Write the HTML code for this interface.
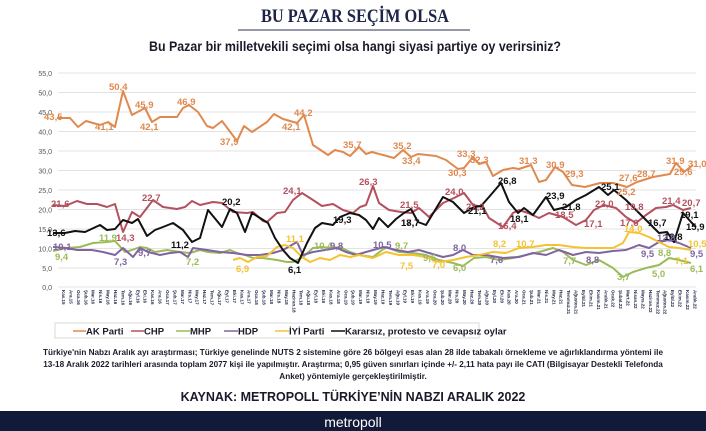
<!DOCTYPE html>
<html><head><meta charset="utf-8"><style>
html,body{margin:0;padding:0;background:#fff;width:706px;height:431px;overflow:hidden}
svg{display:block}
</style></head><body>
<svg width="706" height="431" xmlns="http://www.w3.org/2000/svg" font-family="Liberation Sans, sans-serif">
<rect width="706" height="431" fill="#fff"/>
<text x="355" y="22" text-anchor="middle" font-family="Liberation Serif, serif" font-size="19" font-weight="bold" fill="#1c2447" transform="translate(355 0) scale(0.86 1) translate(-355 0)">BU PAZAR SEÇİM OLSA</text>
<line x1="238" y1="30" x2="470" y2="30" stroke="#2a3050" stroke-width="1"/>
<text x="355" y="51" text-anchor="middle" font-size="13.5" font-weight="bold" fill="#1a1a2a" transform="translate(355 0) scale(0.92 1) translate(-355 0)">Bu Pazar bir milletvekili seçimi olsa hangi siyasi partiye oy verirsiniz?</text>
<g stroke="#e3e3e3" stroke-width="1">
<line x1="58" y1="73" x2="696" y2="73"/><line x1="58" y1="92.5" x2="696" y2="92.5"/><line x1="58" y1="112" x2="696" y2="112"/><line x1="58" y1="131.5" x2="696" y2="131.5"/><line x1="58" y1="151" x2="696" y2="151"/><line x1="58" y1="170.5" x2="696" y2="170.5"/><line x1="58" y1="190" x2="696" y2="190"/><line x1="58" y1="209.5" x2="696" y2="209.5"/><line x1="58" y1="229" x2="696" y2="229"/><line x1="58" y1="248.5" x2="696" y2="248.5"/><line x1="58" y1="268" x2="696" y2="268"/><line x1="58" y1="287" x2="696" y2="287"/>
</g>
<g font-size="7" fill="#555" text-anchor="end">
<text x="52" y="76">55,0</text><text x="52" y="95.5">50,0</text><text x="52" y="115">45,0</text><text x="52" y="134.5">40,0</text><text x="52" y="154">35,0</text><text x="52" y="173.5">30,0</text><text x="52" y="193">25,0</text><text x="52" y="212.5">20,0</text><text x="52" y="232">15,0</text><text x="52" y="251.5">10,0</text><text x="52" y="271">5,0</text><text x="52" y="290">0,0</text>
</g>
<g fill="none" stroke-width="2" stroke-linejoin="round">
<polyline stroke="#e0894f" points="57,118 70,118 78,127 86,121 100,125 108,122 115,127 123,91 132,115 145,108 152,122 160,117 168,117 177,117 183,108 189,105 198,112 207,126 213,128 222,121 237,141 244,126 252,132 267,122 274,114 283,119 297,123 304,115 313,145 328,155 335,150 343,152 350,156 359,147 366,154 372,152 394,158 403,150 411,157 418,154 436,156 446,160 458,169 464,168 473,157 479,164 486,162 493,176 503,170 513,168 519,169 531,165 539,182 546,180 555,167 563,172 572,185 585,187 600,183 613,183 627,187 637,182 653,177 670,174 676,163 684,172 693,165"/>
<polyline stroke="#b5505e" points="53,205 65,206 77,201 87,204 97,204 107,207 115,204 123,232 132,212 140,217 153,200 163,207 177,209 185,207 192,201 200,205 213,202 222,203 233,212 247,213 253,212 263,221 267,222 277,213 285,212 293,200 302,193 313,200 322,206 333,204 343,210 353,213 360,207 366,205 373,186 379,203 389,210 401,212 411,213 419,208 429,217 443,203 454,198 464,193 473,205 483,207 489,218 503,227 513,213 519,210 528,213 539,218 549,213 563,217 576,225 586,220 594,210 604,205 616,208 626,217 636,223 646,215 656,208 666,207 673,205 683,210 691,208"/>
<polyline stroke="#9bbb59" points="53,251 67,248 80,247 93,243 107,242 115,241 125,252 132,250 140,247 147,248 155,252 167,250 180,252 190,253 200,250 208,252 220,253 230,250 237,253 245,255 253,258 263,258 277,260 287,262 293,262 303,257 313,248 322,247 330,248 340,247 350,252 359,255 373,257 386,247 399,252 413,253 426,255 439,260 453,263 463,266 474,258 486,257 499,260 513,258 526,255 539,252 553,248 563,252 573,260 586,265 599,260 613,268 623,277 633,272 646,268 659,265 669,258 679,260 691,263"/>
<polyline stroke="#8064a2" points="53,247 67,248 77,250 92,250 103,252 115,255 123,248 133,257 140,248 148,252 160,255 170,253 180,252 188,257 193,248 207,250 220,252 233,253 247,255 260,255 273,253 283,250 297,242 303,255 313,252 325,250 337,248 346,252 356,255 366,252 384,247 396,250 408,252 419,250 429,253 443,257 453,255 463,250 473,255 486,255 503,258 519,257 533,253 546,255 559,250 573,255 586,252 599,253 613,251 626,250 639,245 649,248 659,242 669,240 679,243 691,248"/>
<polyline stroke="#f5c232" points="233,260 240,258 248,262 257,257 267,256 277,247 285,245 293,248 302,257 310,262 320,258 330,260 340,255 350,257 359,255 373,258 386,252 399,255 413,255 426,257 439,262 453,260 466,257 479,255 493,252 506,253 519,248 533,247 546,245 559,245 573,247 586,248 599,248 613,248 623,243 629,232 639,233 649,237 659,242 669,247 679,248 691,250"/>
<polyline stroke="#111" points="53,233 65,233 75,231 85,232 100,225 107,230 115,229 123,220 132,223 138,219 147,236 155,230 163,227 173,223 183,230 192,242 200,238 208,210 222,227 230,209 237,213 245,232 252,213 260,218 268,223 275,238 283,250 290,258 298,263 307,243 315,228 322,223 333,225 340,217 350,213 359,215 366,220 373,229 379,218 388,227 396,219 404,213 411,209 418,222 426,225 443,197 453,202 464,213 474,207 481,206 489,197 501,183 509,202 518,213 524,208 533,215 546,197 554,210 566,207 576,200 586,195 599,187 608,195 614,190 626,200 636,210 646,220 659,233 667,232 674,242 683,213 691,222 696,227"/>
</g>
<g font-size="9.5" font-weight="bold">
<g fill="#e0894f">
<text x="44" y="120">43,5</text><text x="95" y="130">41,1</text><text x="109" y="90">50,4</text><text x="135" y="108">45,9</text><text x="140" y="130">42,1</text><text x="177" y="105">46,9</text><text x="220" y="145">37,9</text><text x="282" y="130">42,1</text><text x="294" y="116">44,2</text><text x="343" y="148">35,7</text><text x="393" y="149">35,2</text><text x="402" y="164">33,4</text><text x="448" y="176">30,3</text><text x="457" y="157">33,3</text><text x="470" y="163">32,3</text><text x="519" y="164">31,3</text><text x="546" y="168">30,9</text><text x="565" y="177">29,3</text><text x="619" y="181">27,6</text><text x="637" y="177">28,7</text><text x="666" y="164">31,9</text><text x="674" y="175">29,6</text><text x="688" y="167">31,0</text><text x="617" y="195">25,2</text>
</g>
<g fill="#b5505e">
<text x="51" y="207">21,6</text><text x="116" y="241">14,3</text><text x="142" y="201">22,7</text><text x="283" y="194">24,1</text><text x="359" y="185">26,3</text><text x="400" y="208">21,5</text><text x="401" y="226">17,7</text><text x="445" y="195">24,0</text><text x="466" y="210">21,2</text><text x="498" y="229">16,4</text><text x="555" y="218">18,5</text><text x="584" y="227">17,1</text><text x="595" y="207">22,0</text><text x="625" y="210">19,8</text><text x="620" y="226">17,6</text><text x="662" y="204">21,4</text><text x="682" y="206">20,7</text>
</g>
<g fill="#111">
<text x="47" y="236">13,6</text><text x="171" y="248">11,2</text><text x="222" y="205">20,2</text><text x="288" y="273">6,1</text><text x="333" y="223">19,3</text><text x="401" y="226">18,7</text><text x="468" y="214">21,1</text><text x="498" y="184">26,8</text><text x="510" y="222">18,1</text><text x="546" y="199">23,9</text><text x="562" y="210">21,8</text><text x="601" y="190">25,1</text><text x="648" y="226">16,7</text><text x="664" y="240">13,8</text><text x="680" y="218">19,1</text><text x="686" y="230">15,9</text>
</g>
<g fill="#9bbb59">
<text x="55" y="260">9,4</text><text x="99" y="241">11,9</text><text x="186" y="265">7,2</text><text x="314" y="249">10,4</text><text x="395" y="249">9,7</text><text x="423" y="261">9,5</text><text x="453" y="271">6,0</text><text x="563" y="264">7,7</text><text x="617" y="280">3,7</text><text x="652" y="277">5,0</text><text x="658" y="256">8,8</text><text x="690" y="272">6,1</text>
</g>
<g fill="#8064a2">
<text x="53" y="250">10,1</text><text x="114" y="265">7,3</text><text x="138" y="256">9,7</text><text x="330" y="249">9,8</text><text x="373" y="248">10,5</text><text x="453" y="251">8,0</text><text x="490" y="263">7,6</text><text x="586" y="263">8,8</text><text x="641" y="257">9,5</text><text x="657" y="241">12,8</text><text x="690" y="257">9,5</text>
</g>
<g fill="#f5c232">
<text x="236" y="272">6,9</text><text x="286" y="242">11,1</text><text x="400" y="269">7,5</text><text x="432" y="268">7,0</text><text x="493" y="247">8,2</text><text x="516" y="247">10,7</text><text x="624" y="232">14,0</text><text x="675" y="264">7,1</text><text x="688" y="247">10,5</text>
</g>
</g>
<g font-size="4.5" font-weight="bold" fill="#1c2447">
<text transform="translate(62,290) rotate(90)">Kas.15</text><text transform="translate(69.4,290) rotate(90)">Ara.15</text><text transform="translate(76.9,290) rotate(90)">Oca.16</text><text transform="translate(84.3,290) rotate(90)">Şub.16</text><text transform="translate(91.7,290) rotate(90)">Mar.16</text><text transform="translate(99.1,290) rotate(90)">Nis.16</text><text transform="translate(106.6,290) rotate(90)">May.16</text><text transform="translate(114,290) rotate(90)">Haz.16</text><text transform="translate(121.4,290) rotate(90)">Tem.16</text><text transform="translate(128.9,290) rotate(90)">Ağu.16</text><text transform="translate(136.3,290) rotate(90)">Eyl.16</text><text transform="translate(143.7,290) rotate(90)">Eki.16</text><text transform="translate(151.1,290) rotate(90)">Kas.16</text><text transform="translate(158.6,290) rotate(90)">Ara.16</text><text transform="translate(166,290) rotate(90)">Oca.17</text><text transform="translate(173.4,290) rotate(90)">Şub.17</text><text transform="translate(180.9,290) rotate(90)">Mar.17</text><text transform="translate(188.3,290) rotate(90)">Nis.17</text><text transform="translate(195.7,290) rotate(90)">May.17</text><text transform="translate(203.1,290) rotate(90)">Haz.17</text><text transform="translate(210.6,290) rotate(90)">Tem.17</text><text transform="translate(218,290) rotate(90)">Ağu.17</text><text transform="translate(225.4,290) rotate(90)">Eyl.17</text><text transform="translate(232.9,290) rotate(90)">Eki.17</text><text transform="translate(240.3,290) rotate(90)">Kas.17</text><text transform="translate(247.7,290) rotate(90)">Ara.17</text><text transform="translate(255.1,290) rotate(90)">Oca.18</text><text transform="translate(262.6,290) rotate(90)">Şub.18</text><text transform="translate(270,290) rotate(90)">Mar.18</text><text transform="translate(277.4,290) rotate(90)">Nis.18</text><text transform="translate(284.9,290) rotate(90)">May.18</text><text transform="translate(292.3,290) rotate(90)">Haziran.18</text><text transform="translate(299.7,290) rotate(90)">Tem.18</text><text transform="translate(307.1,290) rotate(90)">Ağu.18</text><text transform="translate(314.6,290) rotate(90)">Eyl.18</text><text transform="translate(322,290) rotate(90)">Eki.18</text><text transform="translate(329.4,290) rotate(90)">Kas.18</text><text transform="translate(336.9,290) rotate(90)">Ara.18</text><text transform="translate(344.3,290) rotate(90)">Oca.19</text><text transform="translate(351.7,290) rotate(90)">Şub.19</text><text transform="translate(359.1,290) rotate(90)">Mar.19</text><text transform="translate(366.6,290) rotate(90)">Nis.19</text><text transform="translate(374,290) rotate(90)">May.19</text><text transform="translate(381.4,290) rotate(90)">Haz.19</text><text transform="translate(388.9,290) rotate(90)">Tem.19</text><text transform="translate(396.3,290) rotate(90)">Ağu.19</text><text transform="translate(403.7,290) rotate(90)">Eyl.19</text><text transform="translate(411.1,290) rotate(90)">Eki.19</text><text transform="translate(418.6,290) rotate(90)">Kas.19</text><text transform="translate(426,290) rotate(90)">Ara.19</text><text transform="translate(433.4,290) rotate(90)">Oca.20</text><text transform="translate(440.9,290) rotate(90)">Şub.20</text><text transform="translate(448.3,290) rotate(90)">Mar.20</text><text transform="translate(455.7,290) rotate(90)">Nis.20</text><text transform="translate(463.1,290) rotate(90)">May.20</text><text transform="translate(470.6,290) rotate(90)">Haz.20</text><text transform="translate(478,290) rotate(90)">Tem.20</text><text transform="translate(485.4,290) rotate(90)">Ağu.20</text><text transform="translate(492.9,290) rotate(90)">Eyl.20</text><text transform="translate(500.3,290) rotate(90)">Eki.20</text><text transform="translate(507.7,290) rotate(90)">Kas.20</text><text transform="translate(515.1,290) rotate(90)">Ara.20</text><text transform="translate(522.6,290) rotate(90)">Oca.21</text><text transform="translate(530,290) rotate(90)">Şub.21</text><text transform="translate(537.4,290) rotate(90)">Mar.21</text><text transform="translate(544.9,290) rotate(90)">Nis.21</text><text transform="translate(552.3,290) rotate(90)">May.21</text><text transform="translate(559.7,290) rotate(90)">Haz.21</text><text transform="translate(567.1,290) rotate(90)">Temmuz.21</text><text transform="translate(574.6,290) rotate(90)">Ağustos.21</text><text transform="translate(582,290) rotate(90)">Eylül.21</text><text transform="translate(589.4,290) rotate(90)">Ekim.21</text><text transform="translate(596.9,290) rotate(90)">Kasım.21</text><text transform="translate(604.3,290) rotate(90)">Aralık.21</text><text transform="translate(611.7,290) rotate(90)">Ocak.22</text><text transform="translate(619.1,290) rotate(90)">Şubat.22</text><text transform="translate(626.6,290) rotate(90)">Mart.22</text><text transform="translate(634,290) rotate(90)">Nisan.22</text><text transform="translate(641.4,290) rotate(90)">Mayıs.22</text><text transform="translate(648.9,290) rotate(90)">Haziran.22</text><text transform="translate(656.3,290) rotate(90)">Temmuz.22</text><text transform="translate(663.7,290) rotate(90)">Ağustos.22</text><text transform="translate(671.1,290) rotate(90)">Eylül.22</text><text transform="translate(678.6,290) rotate(90)">Ekim.22</text><text transform="translate(686,290) rotate(90)">Kasım.22</text><text transform="translate(693.4,290) rotate(90)">Aralık.22</text>
</g>
<rect x="55" y="323" width="424" height="15" fill="#fff" stroke="#d0d0d0" stroke-width="0.8"/>
<g font-size="9.5" font-weight="bold" fill="#1a1a2a" stroke-width="1.5">
<line x1="73" y1="331" x2="86" y2="331" stroke="#e0894f"/><text x="86" y="334.5">AK Parti</text>
<line x1="131" y1="331" x2="144" y2="331" stroke="#b5505e"/><text x="144" y="334.5">CHP</text>
<line x1="176" y1="331" x2="190" y2="331" stroke="#9bbb59"/><text x="190" y="334.5">MHP</text>
<line x1="224" y1="331" x2="238" y2="331" stroke="#8064a2"/><text x="238" y="334.5">HDP</text>
<line x1="275" y1="331" x2="289" y2="331" stroke="#f5c232"/><text x="289" y="334.5">İYİ Parti</text>
<line x1="331" y1="331" x2="345" y2="331" stroke="#111"/><text x="345" y="334.5">Kararsız, protesto ve cevapsız oylar</text>
</g>
<g font-size="8.2" font-weight="bold" fill="#1a1a2a" text-anchor="middle">
<text x="353" y="355">Türkiye'nin Nabzı Aralık ayı araştırması; Türkiye genelinde NUTS 2 sistemine göre 26 bölgeyi esas alan 28 ilde tabakalı örnekleme ve ağırlıklandırma yöntemi ile</text>
<text x="353" y="367">13-18 Aralık 2022 tarihleri arasında toplam 2077 kişi ile yapılmıştır. Araştırma; 0,95 güven sınırları içinde +/- 2,11 hata payı ile CATI (Bilgisayar Destekli Telefonda</text>
<text x="353" y="379">Anket) yöntemiyle gerçekleştirilmiştir.</text>
</g>
<text x="353" y="401" text-anchor="middle" font-size="12.5" font-weight="bold" fill="#1a1a2a">KAYNAK: METROPOLL TÜRKİYE’NİN NABZI ARALIK 2022</text>
<rect x="0" y="411" width="706" height="20" fill="#121a3a"/>
<text x="353" y="427" text-anchor="middle" font-size="14" fill="#fff">metropoll</text>
</svg>
</body></html>
